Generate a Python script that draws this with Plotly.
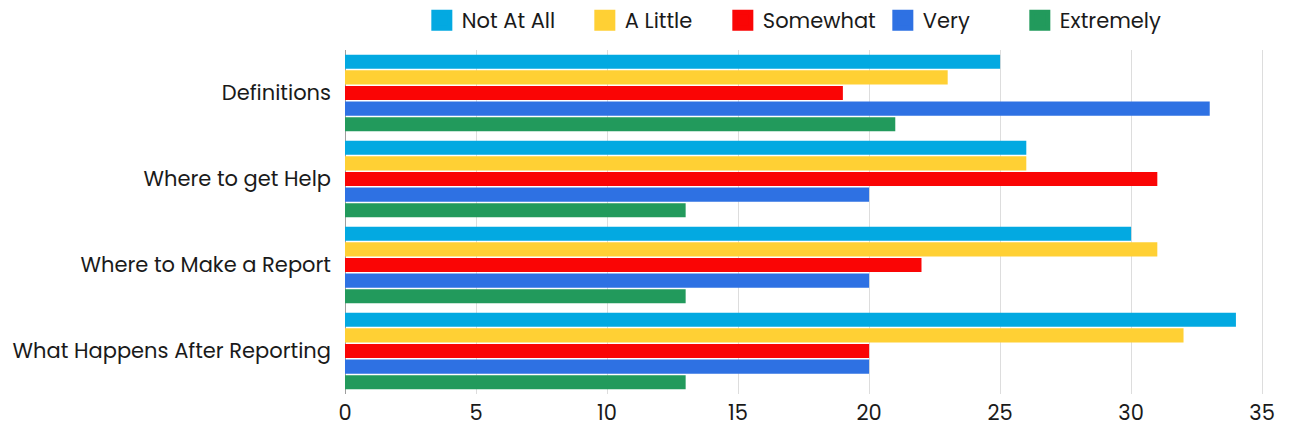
import plotly.graph_objects as go

categories = ["Definitions", "Where to get Help", "Where to Make a Report", "What Happens After Reporting"]
series_names = ["Not At All", "A Little", "Somewhat", "Very", "Extremely"]
not_at_all = [25, 26, 30, 34]
a_little = [23, 26, 31, 32]
somewhat = [19, 31, 22, 20]
very = [33, 20, 20, 20]
extremely = [21, 13, 13, 13]
x_ticks = [0, 5, 10, 15, 20, 25, 30, 35]

colors = ["#03A9E1", "#FFD034", "#FA0505", "#2E71E3", "#229A5C"]
legend_widths = [118, 93, 115, 92, 110]
values = [not_at_all, a_little, somewhat, very, extremely]

fig = go.Figure()
for name, vals, col in zip(series_names, values, colors):
    fig.add_trace(go.Bar(y=categories, x=vals, name=name, orientation="h", showlegend=False,
                         marker=dict(color=col, line=dict(width=0))))
# legend entries with large square swatches
for name, col, lw in zip(series_names, colors, legend_widths):
    fig.add_trace(go.Scatter(x=[None], y=[None], mode="markers", name=name,
                             marker=dict(symbol="square", size=16, color=col,
                                         line=dict(color=col, width=5)),
                             showlegend=True, hoverinfo="skip", legendwidth=lw))

font = "Poppins, Lato, 'Open Sans', sans-serif"
fig.update_layout(
    width=1290, height=430,
    barmode="group", bargap=0.09, bargroupgap=0.1,
    plot_bgcolor="white", paper_bgcolor="white",
    margin=dict(l=345, r=20, t=50, b=36, autoexpand=False),
    font=dict(family=font, size=21, color="#1A1A1A"),
    legend=dict(orientation="h", x=0.327, xanchor="left", xref="container",
                y=1.0, yanchor="top", yref="container",
                font=dict(size=21), itemsizing="trace", traceorder="normal"),
    xaxis=dict(range=[0, 35.3], tickvals=x_ticks, showgrid=True, gridcolor="#DDDDDD",
               zeroline=True, zerolinecolor="#9E9E9E", zerolinewidth=1,
               tickfont=dict(size=21), ticks="", automargin=False, ticklabelstandoff=4),
    yaxis=dict(autorange="reversed", tickfont=dict(size=21), ticks="", ticklabelstandoff=13,
               automargin=False),
)
fig.write_html("out.html", config={"displayModeBar": False},
               post_script="document.body.style.margin='0px';")
